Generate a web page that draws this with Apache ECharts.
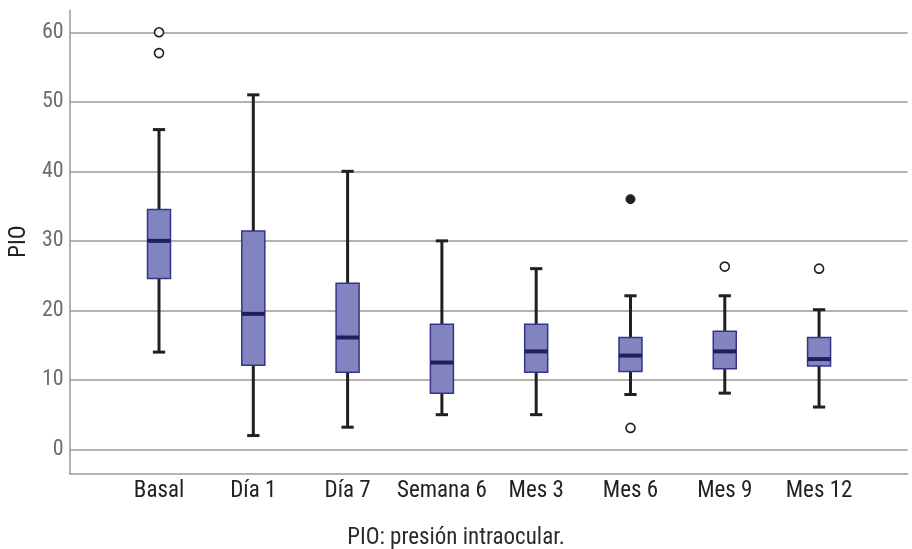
<!DOCTYPE html>
<html>
<head>
<meta charset="utf-8">
<script src="https://cdn.jsdelivr.net/npm/echarts@6/dist/echarts.min.js"></script>
<style>
html,body{margin:0;padding:0;background:#fff;}
#chart{width:912px;height:549px;}
</style>
</head>
<body>
<div id="chart"></div>
<script>
const categories = ['Basal', 'Día 1', 'Día 7', 'Semana 6', 'Mes 3', 'Mes 6', 'Mes 9', 'Mes 12'];
const whiskerLow = [14, 2, 3.2, 5, 5, 7.9, 8.1, 6.1];
const q1 = [24.6, 12.1, 11.1, 8.1, 11.1, 11.2, 11.6, 12.0];
const median = [30, 19.5, 16.1, 12.5, 14.1, 13.5, 14.1, 13.0];
const q3 = [34.5, 31.4, 23.9, 18.0, 18.0, 16.1, 17.0, 16.1];
const whiskerHigh = [46, 51, 40, 30, 26, 22.1, 22.1, 20.1];
const outliersHollow = [[0, 60], [0, 57], [5, 3.1], [6, 26.3], [7, 26.0]];
const outliersFilled = [[5, 36]];
const yTicks = [0, 10, 20, 30, 40, 50, 60];
const xTicks = [0, 1, 2, 3, 4, 5, 6, 7];

const FONT = "'Liberation Sans Narrow', 'Roboto Condensed', 'Open Sans', sans-serif";

const boxData = categories.map((c, i) => [i, whiskerLow[i], q1[i], median[i], q3[i], whiskerHigh[i]]);

const chart = echarts.init(document.getElementById('chart'), null, {renderer: 'canvas'});

function renderBox(params, api) {
  const x = api.value(0);
  const pLow = api.coord([x, api.value(1)]);
  const pQ1 = api.coord([x, api.value(2)]);
  const pMed = api.coord([x, api.value(3)]);
  const pQ3 = api.coord([x, api.value(4)]);
  const pHigh = api.coord([x, api.value(5)]);
  const band = api.size([1, 0])[0];
  const hw = band * 0.122;
  const cw = band * 0.065;
  const cx = pMed[0];
  const wStyle = {stroke: '#231f20', lineWidth: 3};
  return {
    type: 'group',
    children: [
      {type: 'line', shape: {x1: cx, y1: pHigh[1], x2: cx, y2: pQ3[1]}, style: wStyle},
      {type: 'line', shape: {x1: cx, y1: pQ1[1], x2: cx, y2: pLow[1]}, style: wStyle},
      {type: 'line', shape: {x1: cx - cw, y1: pHigh[1], x2: cx + cw, y2: pHigh[1]}, style: wStyle},
      {type: 'line', shape: {x1: cx - cw, y1: pLow[1], x2: cx + cw, y2: pLow[1]}, style: wStyle},
      {type: 'rect', shape: {x: cx - hw, y: pQ3[1], width: hw * 2, height: pQ1[1] - pQ3[1]},
        style: {fill: '#8184bf', stroke: '#34358a', lineWidth: 1.5}},
      {type: 'line', shape: {x1: cx - hw, y1: pMed[1], x2: cx + hw, y2: pMed[1]},
        style: {stroke: '#1f1f5e', lineWidth: 4}}
    ]
  };
}

const option = {
  animation: false,
  backgroundColor: '#ffffff',
  title: {
    text: 'PIO: presión intraocular.',
    left: 'center',
    top: 527,
    padding: 0,
    textStyle: {fontFamily: FONT, fontSize: 23, fontWeight: 'normal', color: '#2b2b2b'}
  },
  grid: {left: 67, right: 4.3, top: 10, bottom: 75.7},
  xAxis: {
    type: 'value',
    min: -0.948,
    max: 7.94,
    splitLine: {show: false},
    axisLine: {show: true, onZero: false, lineStyle: {color: '#9a9a9a', width: 1.5}},
    axisTick: {show: false},
    axisLabel: {
      customValues: xTicks,
      formatter: v => categories[Math.round(v)] || '',
      fontFamily: FONT, fontSize: 23, color: '#231f20', margin: 6
    }
  },
  yAxis: {
    type: 'value',
    min: -3.43,
    max: 63.2,
    name: 'PIO',
    nameLocation: 'middle',
    nameRotate: 90,
    nameGap: 30,
    nameTextStyle: {fontFamily: FONT, fontSize: 23, color: '#231f20'},
    splitLine: {show: false},
    axisLine: {show: true, onZero: false, lineStyle: {color: '#9a9a9a', width: 1.5}},
    axisTick: {show: false},
    axisLabel: {
      customValues: yTicks,
      fontFamily: FONT, fontSize: 22, color: '#6d6d6d', margin: 6
    }
  },
  series: [
    {
      type: 'line',
      data: [],
      silent: true,
      z: 1,
      markLine: {
        silent: true,
        symbol: 'none',
        label: {show: false},
        lineStyle: {color: '#9a9a9a', width: 1.5, type: 'solid'},
        data: yTicks.map(t => ({yAxis: t}))
      }
    },
    {
      type: 'custom',
      renderItem: renderBox,
      data: boxData,
      encode: {x: 0, y: [1, 2, 3, 4, 5]},
      z: 10
    },
    {
      type: 'scatter',
      data: outliersHollow,
      symbol: 'circle',
      symbolSize: 9,
      itemStyle: {color: '#ffffff', borderColor: '#231f20', borderWidth: 1.6, opacity: 1},
      z: 11
    },
    {
      type: 'scatter',
      data: outliersFilled,
      symbol: 'circle',
      symbolSize: 9,
      itemStyle: {color: '#231f20', borderColor: '#231f20', borderWidth: 1, opacity: 1},
      z: 11
    }
  ]
};
chart.setOption(option);
</script>
</body>
</html>
